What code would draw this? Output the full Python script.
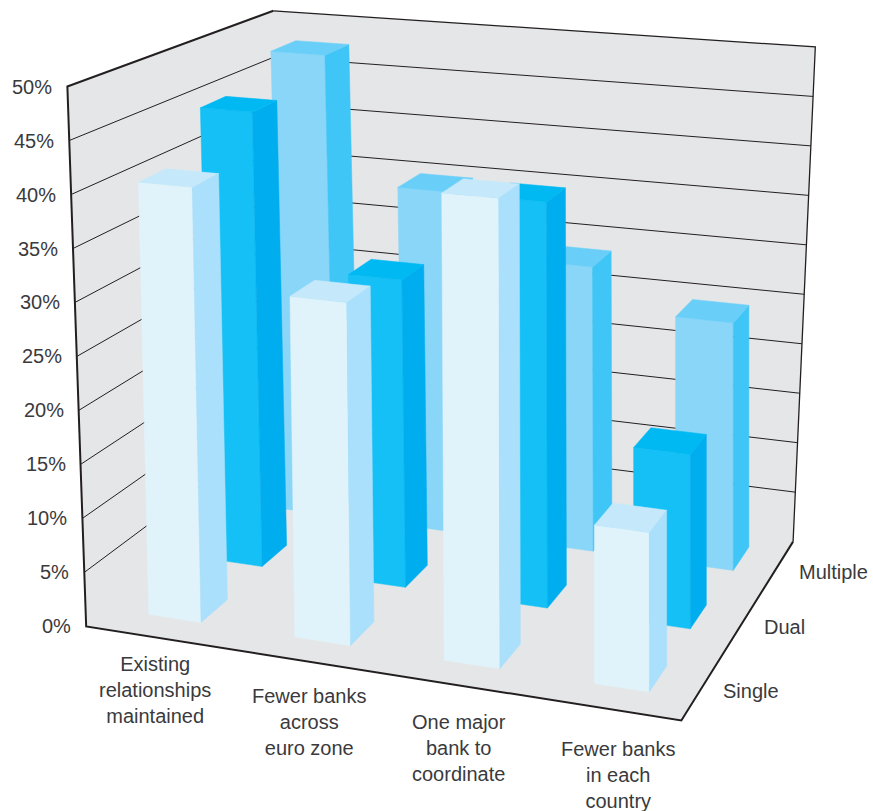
import numpy as np, plotly.graph_objects as go
W,H=873,811

categories=["Existing<br>relationships<br>maintained","Fewer banks<br>across<br>euro zone","One major<br>bank to<br>coordinate","Fewer banks<br>in each<br>country"]
series=["Multiple","Dual","Single"]   # back row first
multiple=[47.6,34.6,28.4,24.3]
dual=[44.6,29.6,38.4,16.2]
single=[40.5,31.3,42.1,14.0]
z_ticks=[0,5,10,15,20,25,30,35,40,45,50]
z_labels=[f"{t}%" for t in z_ticks]
values={"Multiple":multiple,"Dual":dual,"Single":single}
zmax=50.0

# bar slots on the floor of the box (0..1 each way)
slot_left={"Single":[.073,.335,.592,.840],"Dual":[.066,.332,.585,.830],"Multiple":[.082,.320,.579,.829]}
slot_right={"Single":[.168,.432,.685,.928],"Dual":[.162,.428,.681,.926],"Multiple":[.186,.420,.679,.932]}
slot_depth={"Single":(.103,.234),"Dual":(.433,.569),"Multiple":(.781,.931)}
label_centre=[.1235,.3795,.628,.874]
colours={"Single":("#e0f3fb","#aae0fb","#c5e9fa"),"Dual":("#14c0f5","#00aeef","#00b9f2"),"Multiple":("#8ad6f8","#40c6f6","#6acff8")}

# perspective view of the chart box
view=[((0,0,0),(85,625.5)),((1,0,0),(683,720)),((1,1,0),(792,542.5)),((1,1,1),(815,46.5)),((0,0,1),(67,88)),((0,1,1),(274,10)),((0,1,0),(280,474))]
A=[]
for (x,y,z),(u,v) in view:
    u/=W;v/=H
    A.append([x,y,z,1,0,0,0,0,-u*x,-u*y,-u*z,-u])
    A.append([0,0,0,0,x,y,z,1,-v*x,-v*y,-v*z,-v])
P=np.linalg.svd(np.array(A))[2][-1].reshape(3,4)
def pl(x,y,t):
    q=P@np.array([x,y,t,1.]);return np.array([q[0]/q[2]*W,q[1]/q[2]*H])
def proj(x,y,z):
    t=z/zmax
    return tuple((1-t)*pl(x,y,0)+t*pl(x,y,1))
def bar_pt(x,y,z):
    t=z/zmax
    b=pl(x,y,0);top=pl(x,y,1)
    return (b[0]-14*max(0.0,1-x/.75)*t, b[1]+t*(top[1]-b[1]))
def poly(pts,f):
    c=[f(*p) for p in pts];c.append(c[0])
    return [p[0] for p in c]+[None],[p[1] for p in c]+[None]

fig=go.Figure()
def fill(xs,ys,col):
    fig.add_trace(go.Scatter(x=xs,y=ys,mode='lines',fill='toself',fillcolor=col,line=dict(color=col,width=0.5),hoverinfo='skip'))
def stroke(pts,width):
    c=[proj(*p) for p in pts]
    fig.add_trace(go.Scatter(x=[p[0] for p in c],y=[p[1] for p in c],mode='lines',line=dict(color='#231f20',width=width),hoverinfo='skip'))

x,y=poly([(0,0,0),(0,0,zmax),(0,1,zmax),(1,1,zmax),(1,1,0),(1,0,0)],proj)
fill(x,y,'#e5e6e8')
gx=[];gy=[]
for t in z_ticks[1:-1]:
    c=[proj(0,0,t),proj(0,1,t),proj(1,1,t)]
    gx+=[p[0] for p in c]+[None];gy+=[p[1] for p in c]+[None]
fig.add_trace(go.Scatter(x=gx,y=gy,mode='lines',line=dict(color='#231f20',width=1),hoverinfo='skip'))
stroke([(0,1,zmax),(1,1,zmax),(1,1,0)],1.3)
stroke([(0,1,zmax),(0,0,zmax),(0,0,0),(1,0,0),(1,1,0)],2)

for r in series:
    y0,y1=slot_depth[r];f,sd,t=colours[r]
    fx=[];fy=[];rx=[];ry=[];tx=[];ty=[]
    for x0,x1,h in zip(slot_left[r],slot_right[r],values[r]):
        a,b=poly([(x0,y0,0),(x1,y0,0),(x1,y0,h),(x0,y0,h)],bar_pt);fx+=a;fy+=b
        a,b=poly([(x1,y0,0),(x1,y1,0),(x1,y1,h),(x1,y0,h)],bar_pt);rx+=a;ry+=b
        a,b=poly([(x0,y0,h),(x1,y0,h),(x1,y1,h),(x0,y1,h)],bar_pt);tx+=a;ty+=b
    fill(fx,fy,f);fill(rx,ry,sd);fill(tx,ty,t)

font=dict(family="Liberation Sans",size=20,color="#3a3a3c")
for t,l in zip(z_ticks,z_labels):
    px,py=proj(0,0,t)
    fig.add_annotation(x=px,y=py,text=l,showarrow=False,xanchor='right',yanchor='middle',xshift=-13,yshift=0,font=font)
cat_dx=[1,9,11,18];cat_dy=[53,62,64,67]
for c,xc,dx,dy in zip(categories,label_centre,cat_dx,cat_dy):
    px,py=proj(xc,0,0)
    fig.add_annotation(x=px,y=py,text=c,showarrow=False,xanchor='center',yanchor='middle',align='center',xshift=dx,yshift=-dy,font=font)
ser_dx=[18,20,18];ser_dy=[-8,-4,-5]
for r,dx,d in zip(series,ser_dx,ser_dy):
    px,py=proj(1,sum(slot_depth[r])/2,0)
    fig.add_annotation(x=px,y=py,text=r,showarrow=False,xanchor='left',yanchor='middle',xshift=dx,yshift=d,font=font)

fig.update_layout(width=W,height=H,showlegend=False,margin=dict(l=0,r=0,t=0,b=0),plot_bgcolor='white',paper_bgcolor='white',
 xaxis=dict(range=[0,W],visible=False),yaxis=dict(range=[H,0],visible=False))
fig.write_html("out.html",config=dict(displayModeBar=False),post_script="document.body.style.margin='0';")
